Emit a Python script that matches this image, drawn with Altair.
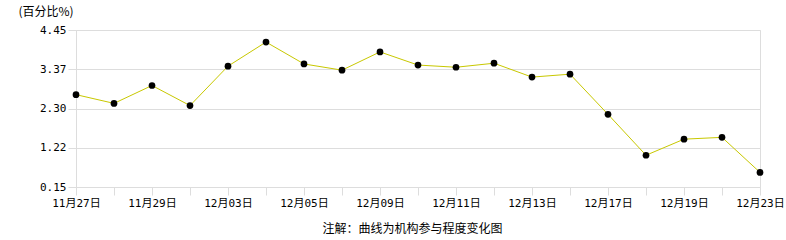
import altair as alt
import pandas as pd

dates = ["11月27日", "11月28日", "11月29日", "12月01日", "12月03日", "12月04日",
         "12月05日", "12月06日", "12月09日", "12月10日", "12月11日", "12月12日",
         "12月13日", "12月16日", "12月17日", "12月18日", "12月19日", "12月20日",
         "12月23日"]
values = [2.68, 2.44, 2.93, 2.38, 3.46, 4.12, 3.52, 3.35, 3.85, 3.49, 3.43,
          3.54, 3.16, 3.24, 2.14, 1.02, 1.46, 1.51, 0.55]
shown_labels = ["11月27日", "11月29日", "12月03日", "12月05日", "12月09日",
                "12月11日", "12月13日", "12月17日", "12月19日", "12月23日"]
y_ticks = [0.15, 1.22, 2.30, 3.37, 4.45]

df = pd.DataFrame({"date": dates, "value": values})

FONT = "DejaVu Sans Mono, Noto Sans CJK SC, sans-serif"
label_list = "[" + ",".join("'" + s + "'" for s in shown_labels) + "]"

x = alt.X(
    "date:N", sort=dates,
    scale=alt.Scale(type="point", padding=0),
    axis=alt.Axis(
        title="注解：曲线为机构参与程度变化图",
        titleFont="Noto Sans CJK SC", titleFontSize=12, titleFontWeight="normal",
        titleColor="#000", titleX=336, titleY=41, titleAlign="center",
        titleBaseline="middle",
        labelExpr=f"indexof({label_list}, datum.value) >= 0 ? datum.value : ''",
        labelAngle=0, labelFont=FONT, labelFontSize=11, labelColor="#000",
        labelPadding=2, tickSize=8, tickColor="#dddddd", domainColor="#dddddd",
        grid=False, labelOverlap=False,
    ),
)
y = alt.Y(
    "value:Q",
    scale=alt.Scale(domain=[0.15, 4.45], nice=False, zero=False),
    axis=alt.Axis(
        values=y_ticks, format=".2f",
        title="(百分比%)", titleAngle=0, titleX=-58, titleY=-19,
        titleAlign="left", titleBaseline="middle",
        titleFont="Noto Sans CJK SC", titleFontSize=12, titleFontWeight="normal",
        titleColor="#000",
        labelFont=FONT, labelFontSize=11, labelColor="#000", labelPadding=2,
        tickSize=8, tickColor="#dddddd", domainColor="#dddddd",
        gridColor="#dddddd",
    ),
)

line = alt.Chart(df).mark_line(color="#c8c800", strokeWidth=1).encode(x=x, y=y)
pts = alt.Chart(df).mark_circle(color="#000", opacity=1, size=45).encode(x=x, y=y)

chart = (
    alt.layer(line, pts)
    .properties(
        width=684, height=157,
        autosize=alt.AutoSizeParams(type="none"),
        padding={"left": 76, "top": 30, "right": 26, "bottom": 53},
        background="#ffffff",
    )
    .configure_view(stroke="#dddddd")
)

chart.save("out.html", embed_options={"renderer": "svg", "actions": False})
